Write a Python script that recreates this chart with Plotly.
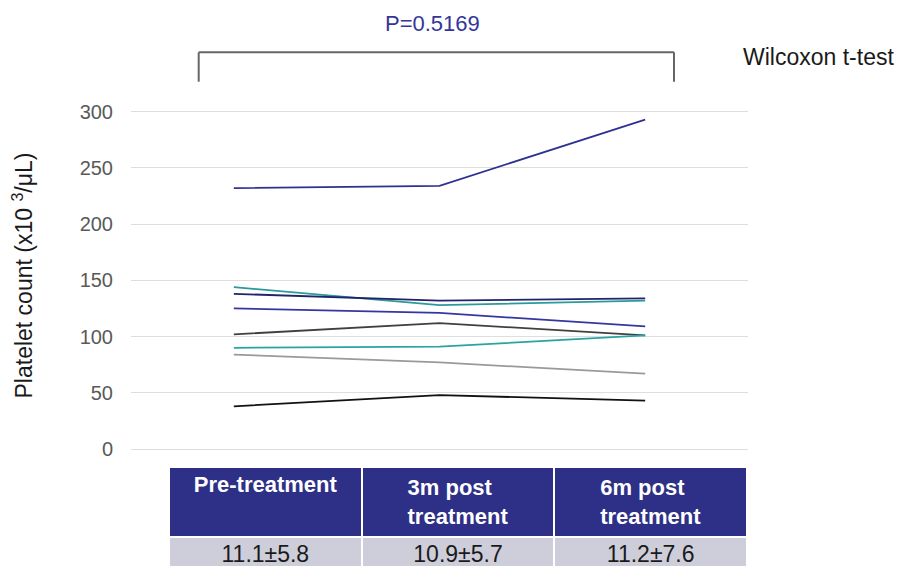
import plotly.graph_objects as go

# ---------------- data ----------------
timepoints = ["Pre-treatment", "3m post treatment", "6m post treatment"]
header_labels = ["Pre-treatment", "3m post<br>treatment", "6m post<br>treatment"]
summary_values = ["11.1±5.8", "10.9±5.7", "11.2±7.6"]

patient_1 = [232, 234, 293]
patient_2 = [144, 128, 132]
patient_3 = [138, 132, 134]
patient_4 = [125, 121, 109]
patient_5 = [102, 112, 101]
patient_6 = [90, 91, 101]
patient_7 = [84, 77, 67]
patient_8 = [38, 48, 43]

series = [patient_1, patient_2, patient_3, patient_4,
          patient_5, patient_6, patient_7, patient_8]
colors = ["#2E3192", "#2A9A9C", "#22246A", "#3636A0",
          "#404040", "#2BA3A3", "#9A9A9A", "#111111"]

p_text = "P=0.5169"
test_text = "Wilcoxon t-test"
y_title = "Platelet count (x10 <sup>3</sup>/μL)"
y_ticks = [0, 50, 100, 150, 200, 250, 300]

W, H = 899, 567

fig = go.Figure()
for vals, col in zip(series, colors):
    fig.add_trace(go.Scatter(x=timepoints, y=vals, mode="lines",
                             line=dict(color=col, width=1.8),
                             showlegend=False, hoverinfo="skip"))

fig.add_trace(go.Table(
    domain=dict(x=[169 / W, 747 / W], y=[0, (H - 467) / H]),
    columnwidth=[1, 1, 1],
    header=dict(values=header_labels, height=58,
                fill_color="#2E3088",
                line=dict(color="white", width=2),
                align="center",
                font=dict(family="Liberation Sans", size=22, color="white", weight="bold")),
    cells=dict(values=[[v] for v in summary_values], height=30,
               fill_color="#CDCEDA",
               line=dict(color="white", width=2),
               align="center",
               font=dict(family="Liberation Sans", size=23, color="#1a1a1a")),
))

fig.update_layout(
    width=W, height=H,
    margin=dict(l=0, r=0, t=0, b=0),
    paper_bgcolor="white", plot_bgcolor="white",
    font=dict(family="Liberation Sans"),
    xaxis=dict(domain=[131 / W, 748 / W], type="category",
               range=[-0.5, 2.5], showticklabels=False, showgrid=False,
               zeroline=False, showline=False, fixedrange=True),
    yaxis=dict(domain=[(H - 465.9) / H, (H - 94.8) / H], range=[-15, 315],
               tickvals=y_ticks, showgrid=True, gridcolor="#DEDEDE", gridwidth=1.3,
               zeroline=False, showline=False,
               tickfont=dict(family="Liberation Sans", size=20, color="#595959"),
               ticklabelstandoff=17),
)

# y-axis title
fig.add_annotation(text=y_title, x=22.5 / W, y=(H - 276) / H, xref="paper", yref="paper",
                   textangle=-90, showarrow=False, xanchor="center", yanchor="middle",
                   font=dict(family="Liberation Sans", size=23, color="#1a1a1a"))

# significance bracket
bx0, bx1 = 198.7 / W, 674 / W
by_top, by_bot = (H - 52.3) / H, (H - 81.7) / H
bracket_line = dict(color="#666666", width=2)
fig.add_shape(type="line", xref="paper", yref="paper", x0=bx0, x1=bx1, y0=by_top, y1=by_top, line=bracket_line)
fig.add_shape(type="line", xref="paper", yref="paper", x0=bx0, x1=bx0, y0=by_top, y1=by_bot, line=bracket_line)
fig.add_shape(type="line", xref="paper", yref="paper", x0=bx1, x1=bx1, y0=by_top, y1=by_bot, line=bracket_line)

fig.add_annotation(text=p_text, x=432 / W, y=(H - 23) / H, xref="paper", yref="paper",
                   showarrow=False, xanchor="center", yanchor="middle",
                   font=dict(family="Liberation Sans", size=22, color="#34369A"))
fig.add_annotation(text=test_text, x=741 / W, y=(H - 57) / H, xref="paper", yref="paper",
                   showarrow=False, xanchor="left", yanchor="middle",
                   font=dict(family="Liberation Sans", size=23, color="#1a1a1a"))

fig.write_html("out.html", config={"displayModeBar": False},
               post_script="document.body.style.margin='0';document.body.style.overflow='hidden';")
